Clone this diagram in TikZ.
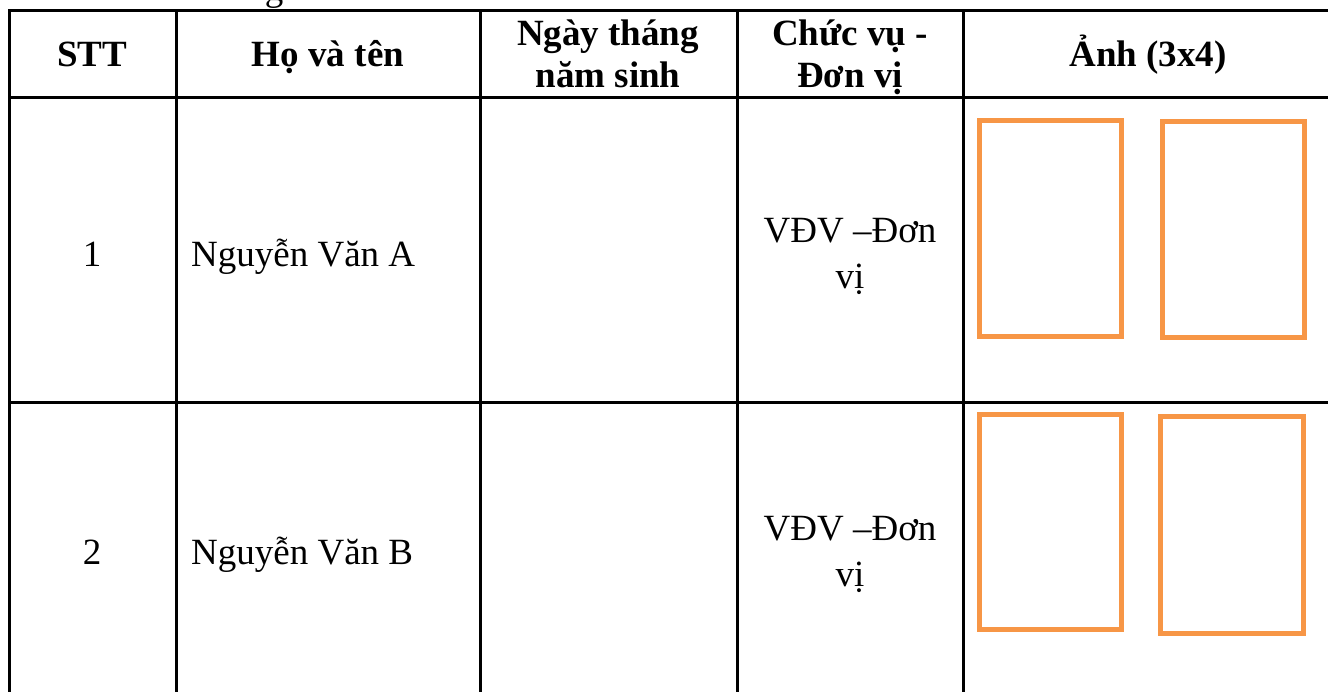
\documentclass[tikz,border=0pt]{standalone}
\usepackage{fontspec}
\setmainfont{Liberation Serif}
\definecolor{photoorange}{HTML}{F79646}
\tikzset{
  grid/.style={line width=3pt, black},
  photo/.style={draw=photoorange, line width=5pt},
  head/.style={anchor=base, inner sep=0pt, font=\fontsize{37}{42}\selectfont\bfseries},
  body/.style={anchor=base, inner sep=0pt, font=\fontsize{37}{45}\selectfont},
}
\begin{document}
\begin{tikzpicture}[x=1pt, y=-1pt]
\useasboundingbox (0,0) rectangle (1328,692);
% cut-off text line above the table
\node[body] (above) at (274,1) {g};
% table rules
\draw[grid] (1340,11) -- (9,11) -- (9,700);
\draw[grid] (9,98) -- (1340,98);
\draw[grid] (9,403) -- (1340,403);
\draw[grid] (176,11) -- (176,700);
\draw[grid] (480,11) -- (480,700);
\draw[grid] (737,11) -- (737,700);
\draw[grid] (963,11) -- (963,700);
% header
\node[head] (hstt) at (92,67) {STT};
\node[head] (hname) at (328,67) {Họ và tên};
\node[head] (hdob1) at (608,46) {Ngày tháng};
\node[head] (hdob2) at (608,88) {năm sinh};
\node[head] (hpos1) at (850,46) {Chức vụ -};
\node[head] (hpos2) at (850,88) {Đơn vị};
\node[head] (hphoto) at (1148,67) {Ảnh (3x4)};
% row 1
\node[body] (n1) at (92,267) {1};
\node[body, anchor=base west] (name1) at (191,267) {Nguyễn Văn A};
\node[body] (pos1a) at (850,243) {VĐV –Đơn};
\node[body] (pos1b) at (850,289) {vị};
\draw[photo] (979.5,120.5) rectangle (1121.5,336.5);
\draw[photo] (1162.5,121.5) rectangle (1304.5,337.5);
% row 2
\node[body] (n2) at (92,564) {2};
\node[body, anchor=base west] (name2) at (191,564) {Nguyễn Văn B};
\node[body] (pos2a) at (850,540) {VĐV –Đơn};
\node[body] (pos2b) at (850,586) {vị};
\draw[photo] (979.5,414.5) rectangle (1121.5,629.5);
\draw[photo] (1160.5,416.5) rectangle (1303.5,633.5);
\end{tikzpicture}
\end{document}
